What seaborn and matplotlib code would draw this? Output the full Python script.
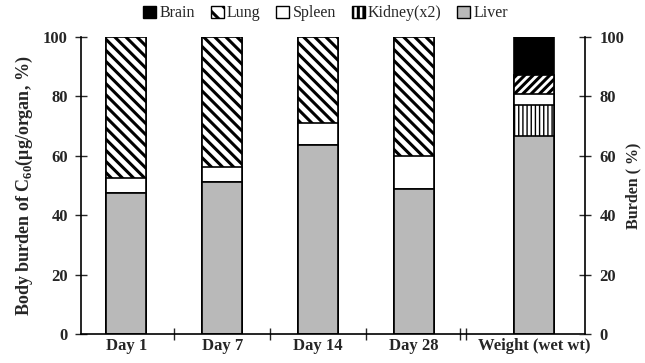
import matplotlib
matplotlib.use("Agg")
import matplotlib.pyplot as plt
import seaborn as sns
import numpy as np
from matplotlib.patches import Patch

# data (percent of total burden)
categories = ["Day 1", "Day 7", "Day 14", "Day 28", "Weight (wet wt)"]
positions = [0, 1, 2, 3, 4.25]
liver = [47.5, 51.2, 63.6, 48.8, 66.7]
kidney = [0.0, 0.0, 0.0, 0.0, 10.3]
spleen = [5.0, 5.0, 7.4, 11.2, 3.8]
lung = [47.5, 43.8, 29.0, 40.0, 6.4]
brain = [0.0, 0.0, 0.0, 0.0, 12.8]
yticks = [0, 20, 40, 60, 80, 100]

sns.set_style("white")
plt.rcParams["font.family"] = ["Liberation Serif", "DejaVu Serif"]
plt.rcParams["mathtext.fontset"] = "custom"
plt.rcParams["mathtext.bf"] = "Liberation Serif:bold"
plt.rcParams["mathtext.rm"] = "Liberation Serif:bold"
plt.rcParams["hatch.linewidth"] = 2.2

fig = plt.figure(figsize=(6.45, 3.63), dpi=100)
ax = fig.add_axes([0.1256, 0.080, 0.7814, 0.818])

# cumulative stacks, drawn from top layer down so each covers the next
c_liver = np.array(liver)
c_kidney = c_liver + np.array(kidney)
c_spleen = c_kidney + np.array(spleen)
c_lung = c_spleen + np.array(lung)
c_brain = c_lung + np.array(brain)

layers = [
    ("Brain", c_brain, "black", None),
    ("Lung", c_lung, "white", ["\\\\\\"] * 4 + ["////"]),
    ("Spleen", c_spleen, "white", None),
    ("Kidney(x2)", c_kidney, "white", ["||||"] * 5),
    ("Liver", c_liver, "#b9b9b9", None),
]

for name, vals, col, hatches in layers:
    sns.barplot(x=positions, y=vals, native_scale=True, width=0.41, color=col,
                edgecolor="black", linewidth=1.2, saturation=1, ax=ax)
    cont = ax.containers[-1]
    if hatches:
        for p, h in zip(cont, hatches):
            p.set_hatch(h)
            if h.startswith("|"):
                try:
                    p.set_hatch_linewidth(1.0)
                except Exception:
                    pass

ax.set_xlim(-0.47, 4.78)
ax.set_ylim(0, 100)
ax.set_yticks(yticks)
ax.set_yticklabels([str(t) for t in yticks], fontweight="bold", fontsize=12)
ax.set_xticks(positions)
ax.set_xticklabels(categories, fontweight="bold", fontsize=12)
ax.set_xticks([0.5, 1.5, 2.5, 3.48, 3.54], minor=True)
ax.tick_params(axis="x", which="major", length=0, pad=3, bottom=True)
ax.tick_params(axis="x", which="minor", direction="inout", length=8, width=1, bottom=True)
ax.tick_params(axis="y", direction="inout", length=9, width=1, left=True, pad=5)
ax.set_ylabel("Body burden of C$_{\\mathbf{60}}$(μg/organ, %)", fontweight="bold", fontsize=13, labelpad=6)
ax.set_xlabel("")
for s in ["top", "right"]:
    ax.spines[s].set_visible(False)
for s in ["left", "bottom"]:
    ax.spines[s].set_color("black")
    ax.spines[s].set_linewidth(1.2)

ax2 = ax.twinx()
ax2.set_ylim(0, 100)
ax2.set_yticks(yticks)
ax2.set_yticklabels([str(t) for t in yticks], fontweight="bold", fontsize=12)
ax2.tick_params(axis="y", direction="inout", length=9, width=1, right=True, pad=6)
ax2.set_ylabel("Burden ( %)", fontweight="bold", fontsize=11.5, labelpad=1)
for s in ["top", "left", "bottom"]:
    ax2.spines[s].set_visible(False)
ax2.spines["right"].set_color("black")
ax2.spines["right"].set_linewidth(1.2)

handles = [
    Patch(facecolor="black", edgecolor="black", label="Brain"),
    Patch(facecolor="white", edgecolor="black", hatch="\\\\", label="Lung"),
    Patch(facecolor="white", edgecolor="black", label="Spleen"),
    Patch(facecolor="white", edgecolor="black", hatch="|||", label="Kidney(x2)"),
    Patch(facecolor="#b9b9b9", edgecolor="black", label="Liver"),
]
fig.legend(handles=handles, loc="upper center", bbox_to_anchor=(0.505, 1.025), ncol=5,
           frameon=False, fontsize=11.5, handlelength=0.8, handleheight=0.8,
           handletextpad=0.2, columnspacing=1.0)

fig.savefig("out.png", dpi=100)
